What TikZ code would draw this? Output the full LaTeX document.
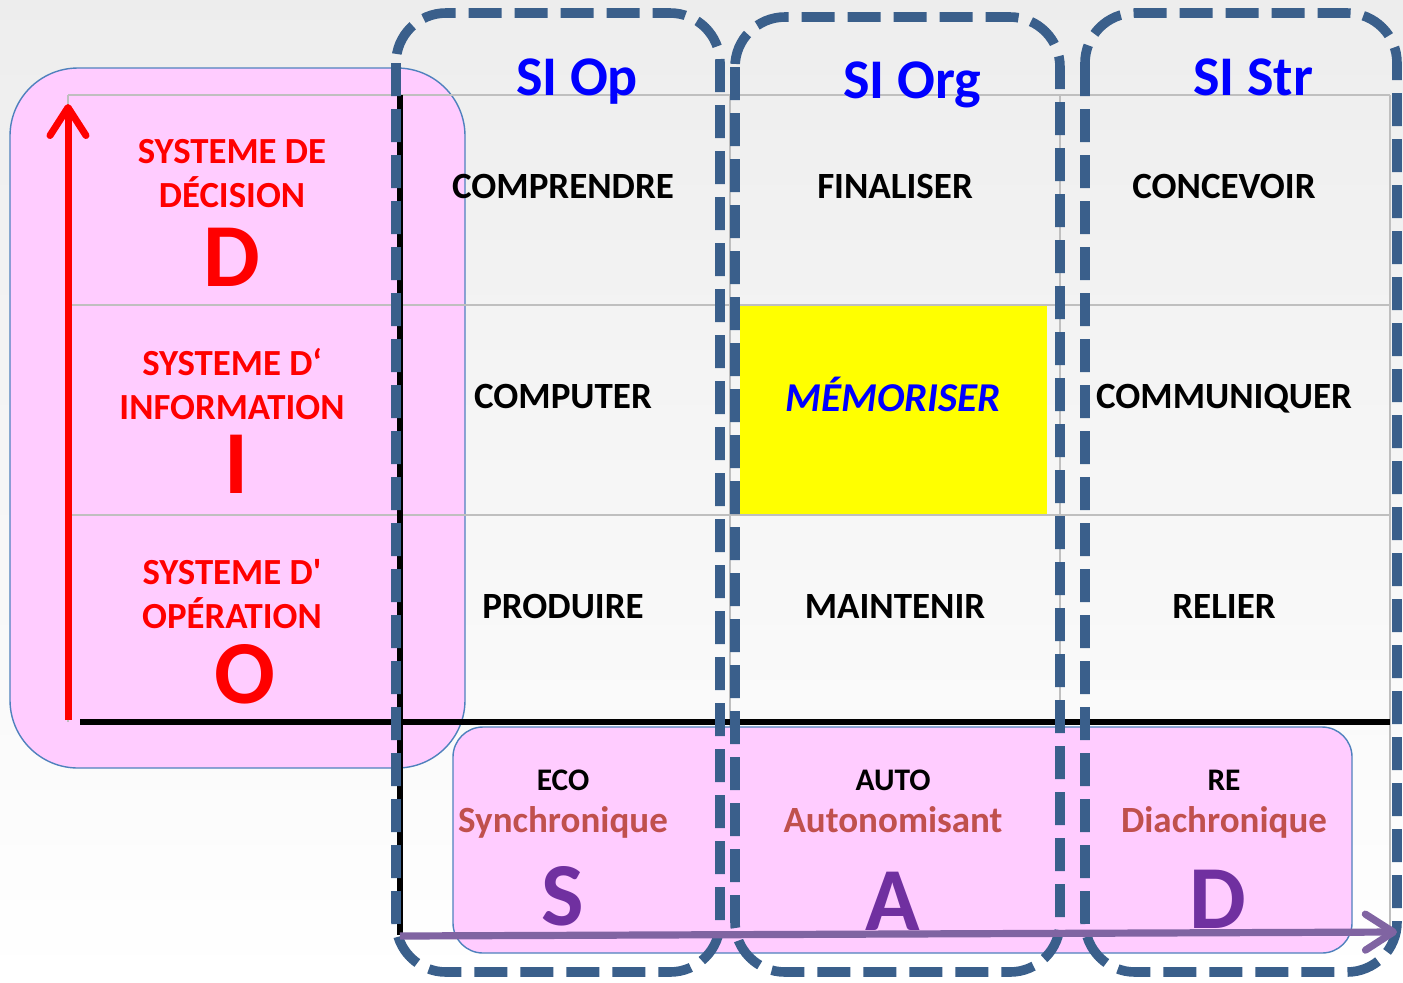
\documentclass[tikz,border=0pt]{standalone}
\usepackage{fontspec}
\setmainfont{Carlito}
\usepackage{xcolor}
\usepackage{tikz}
\usetikzlibrary{arrows.meta}
\definecolor{rose}{HTML}{FFCCFF}
\definecolor{bordrose}{HTML}{4F81BD}
\definecolor{tiret}{HTML}{3A5F8B}
\definecolor{bleusi}{HTML}{0000FF}
\definecolor{rougeniv}{HTML}{FF0000}
\definecolor{brique}{HTML}{C0504D}
\definecolor{prune}{HTML}{7030A0}
\definecolor{lavande}{HTML}{8064A2}
\definecolor{grille}{HTML}{BFBFBF}
\definecolor{surligne}{HTML}{FFFF00}
\tikzset{
  cadre/.style  = {draw=bordrose, line width=0.7pt, fill=rose},
  sibox/.style  = {draw=tiret, line width=4.8pt, dash pattern=on 16.5pt off 6.5pt,
                   rounded corners=25pt},
  trait/.style  = {draw=grille, line width=0.6pt},
  axe/.style    = {draw=black, line width=2.6pt},
  monte/.style  = {-{Straight Barb[length=14pt,width=18pt,round]}, draw=rougeniv, line width=3.5pt},
  avance/.style = {-{Straight Barb[length=14pt,width=18pt,round]}, draw=lavande, line width=3.6pt},
  titre/.style  = {font=\fontsize{28}{30}\selectfont\bfseries, text=bleusi, anchor=base},
  verbe/.style  = {font=\fontsize{18.5}{22}\selectfont\bfseries, anchor=base},
  niveau/.style = {font=\fontsize{18.4}{22}\selectfont\bfseries, text=rougeniv, align=center},
  lettre/.style = {font=\fontsize{45}{47}\selectfont\bfseries, anchor=base},
  prefixe/.style = {font=\fontsize{15.7}{18}\selectfont\bfseries, anchor=base},
  qualif/.style = {font=\fontsize{18.5}{22}\selectfont\bfseries, text=brique, anchor=base},
}

\begin{document}
\begin{tikzpicture}[x=0.5pt, y=-0.5pt]
  \useasboundingbox (0,0) rectangle (1403,982);
  \shade[top color=gray!14, bottom color=white] (0,0) rectangle (1403,982);

  % fonds
  \draw[cadre, rounded corners=34pt] (10,68) rectangle (465,768);
  \fill[surligne] (740,305) rectangle (1047,515);

  % grille du tableau
  \draw[trait] (68,95) -- (1390,95);
  \draw[trait] (68,305) -- (1390,305);
  \draw[trait] (68,515) -- (1390,515);
  \draw[trait] (68,95) -- (68,722);
  \draw[trait] (730,95) -- (730,935);
  \draw[trait] (1060,95) -- (1060,935);
  \draw[trait] (1390,95) -- (1390,935);

  \draw[cadre, rounded corners=15pt] (453,727) rectangle (1352,953);

  \coordinate (hGauche) at (80,722);
  \coordinate (hDroite) at (1390,722);
  \coordinate (vHaut) at (400,95);
  \coordinate (vBas) at (400,935);
  \draw[axe] (hGauche) -- (hDroite);
  \draw[axe] (vHaut) -- (vBas);

  % colonnes SI
  \draw[sibox] (396,13) rectangle (720,972);
  \draw[sibox] (735,17) rectangle (1060,972);
  \draw[sibox] (1085,13) rectangle (1397,972);

  \coordinate (oBas) at (68,720);
  \coordinate (oHaut) at (68,104);
  \draw[monte] (oBas) -- (oHaut);
  \coordinate (tDebut) at (400,936);
  \coordinate (tFin) at (1397,932);
  \draw[avance] (tDebut) -- (tFin);

  \node[titre] (tOp)  at (577,95) {SI Op};
  \node[titre] (tOrg) at (912,98) {SI Org};
  \node[titre] (tStr) at (1253,95) {SI Str};

  \node[verbe] (comprendre) at (563,198) {COMPRENDRE};
  \node[verbe] (finaliser)  at (895,198) {FINALISER};
  \node[verbe] (concevoir)  at (1224,198) {CONCEVOIR};
  \node[verbe] (computer)   at (563,408) {COMPUTER};
  \node[verbe, text=bleusi, font=\fontsize{20.5}{24}\selectfont\bfseries\itshape] (memoriser) at (893,411) {MÉMORISER};
  \node[verbe] (communiquer) at (1224,408) {COMMUNIQUER};
  \node[verbe] (produire)   at (563,618) {PRODUIRE};
  \node[verbe] (maintenir)  at (895,618) {MAINTENIR};
  \node[verbe] (relier)     at (1224,618) {RELIER};

  \node[niveau] (decision) at (232,174) {SYSTEME DE\\DÉCISION};
  \node[lettre, text=rougeniv] (lD) at (232,286) {D};
  \node[niveau] (information) at (232,384) {SYSTEME D‘\\INFORMATION};
  \node[lettre, text=rougeniv] (lI) at (236,493) {I};
  \node[niveau] (operation) at (232,594) {SYSTEME D\textquotesingle\\OPÉRATION};
  \node[lettre, text=rougeniv] (lO) at (245,703) {O};

  \node[prefixe] (eco)  at (563,790) {ECO};
  \node[qualif] (synchro) at (563,832) {Synchronique};
  \node[lettre, text=prune] (lS) at (563,925) {S};
  \node[prefixe] (auto) at (893,790) {AUTO};
  \node[qualif] (autonom) at (893,832) {Autonomisant};
  \node[lettre, text=prune] (lA) at (893,930) {A};
  \node[prefixe] (re)   at (1224,790) {RE};
  \node[qualif] (diachro) at (1224,832) {Diachronique};
  \node[lettre, text=prune] (lDia) at (1218,928) {D};
\end{tikzpicture}
\end{document}
